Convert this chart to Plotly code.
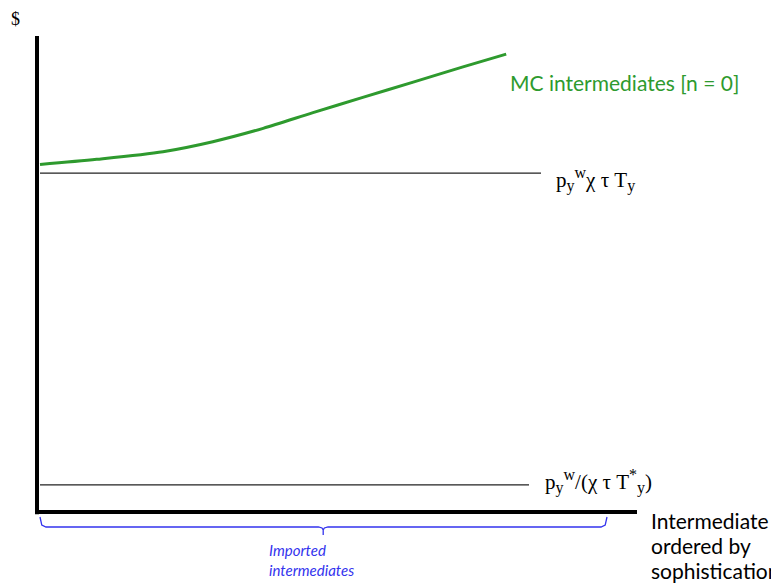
import plotly.graph_objects as go

# --- data (x: sophistication share, y: $) ---
mc_x = [0.005, 0.0995, 0.21, 0.293, 0.377, 0.46, 0.543, 0.627, 0.71, 0.782]
mc_y = [73.0, 74.1, 75.7, 77.8, 80.6, 83.9, 87.1, 90.3, 93.5, 96.2]
upper_level = 71.2      # p_y^w chi tau T_y
lower_level = 5.7       # p_y^w / (chi tau T*_y)
upper_x = [0.005, 0.84]
lower_x = [0.005, 0.82]
brace_x = [0.005, 0.477, 0.95]   # start, middle, end of "imported" brace
xlabel_lines = ["Intermediate", "ordered by", "sophistication"]

# page has an 8px body margin, so the figure is made smaller to fit the window
OFF = 8
W, H = 779 - OFF, 584 - OFF
x0px, y0px, xunit, yunit = 37 - OFF, 512 - OFF, 600, 4.76
xr = [(0 - x0px) / xunit, (W - x0px) / xunit]
yr = [(y0px - H) / yunit, (y0px - 0) / yunit]

fig = go.Figure()
green = "#2e9a2e"
fig.add_trace(go.Scatter(x=mc_x, y=mc_y, mode="lines",
                         line=dict(color=green, width=3, shape="spline", smoothing=0.8),
                         hoverinfo="skip"))
fig.add_trace(go.Scatter(x=upper_x, y=[upper_level] * 2, mode="lines",
                         line=dict(color="#222222", width=1.2), hoverinfo="skip"))
fig.add_trace(go.Scatter(x=lower_x, y=[lower_level] * 2, mode="lines",
                         line=dict(color="#222222", width=1.2), hoverinfo="skip"))

# brace
b0, bm, b1 = brace_x
top, mid, tip = -1.05, -3.15, -4.83
bx = [b0, b0 + 0.003, b0 + 0.01, bm - 0.008, bm - 0.002, bm, bm, bm, bm + 0.002, bm + 0.008, b1 - 0.01, b1 - 0.003, b1]
by = [top, mid + 0.4, mid, mid, mid - 0.2, mid - 0.6, tip, mid - 0.6, mid - 0.2, mid, mid, mid + 0.4, top]
fig.add_trace(go.Scatter(x=bx, y=by, mode="lines",
                         line=dict(color="#3333ee", width=1.3), hoverinfo="skip"))

# axes (thick black)
fig.add_shape(type="line", x0=0, x1=0, y0=-0.45, y1=100, line=dict(color="black", width=4))
fig.add_shape(type="line", x0=-0.002, x1=1.0, y0=0, y1=0, line=dict(color="black", width=4))

serif = "Liberation Serif"
sans = "Lato"


def sub(t):
    return "<sub><span style='font-size:16px'>%s</span></sub>" % t


def sup(t):
    return "<sup><span style='font-size:16px'>%s</span></sup>" % t


ann = [
    dict(x=-0.047, y=103.5, text="$", font=dict(family=serif, size=18, color="black"),
         xanchor="left", yanchor="middle"),
    dict(x=0.785, y=90.2, text="MC intermediates [n = 0]",
         font=dict(family=sans, size=21, color=green), xanchor="left", yanchor="middle"),
    dict(x=0.862, y=upper_level - 1.3,
         text="p" + sub("y") + sup("w") + "χ τ T" + sub("y"),
         font=dict(family=serif, size=21, color="black"), xanchor="left", yanchor="middle"),
    dict(x=0.843, y=lower_level + 0.8,
         text="p" + sub("y") + sup("w") + "/(χ τ T" + sup("*") + sub("y") + ")",
         font=dict(family=serif, size=21, color="black"), xanchor="left", yanchor="middle"),
    dict(x=0.383, y=-5.7, text="<i>Imported<br>intermediates</i>",
         font=dict(family=sans, size=15, color="#3333ee"), xanchor="left", yanchor="top",
         align="left"),
]
for i, t in enumerate(xlabel_lines):
    ann.append(dict(x=1.02, y=-1.7 - i * 25 / yunit, text=t,
                    font=dict(family=sans, size=21, color="black"),
                    xanchor="left", yanchor="middle"))
for a in ann:
    a.update(xref="x", yref="y", showarrow=False)
fig.update_layout(annotations=ann)

fig.update_layout(
    width=W, height=H, margin=dict(l=0, r=0, t=0, b=0),
    paper_bgcolor="white", plot_bgcolor="white", showlegend=False,
    xaxis=dict(range=xr, visible=False, fixedrange=True),
    yaxis=dict(range=yr, visible=False, fixedrange=True),
)
fig.write_html("out.html")
